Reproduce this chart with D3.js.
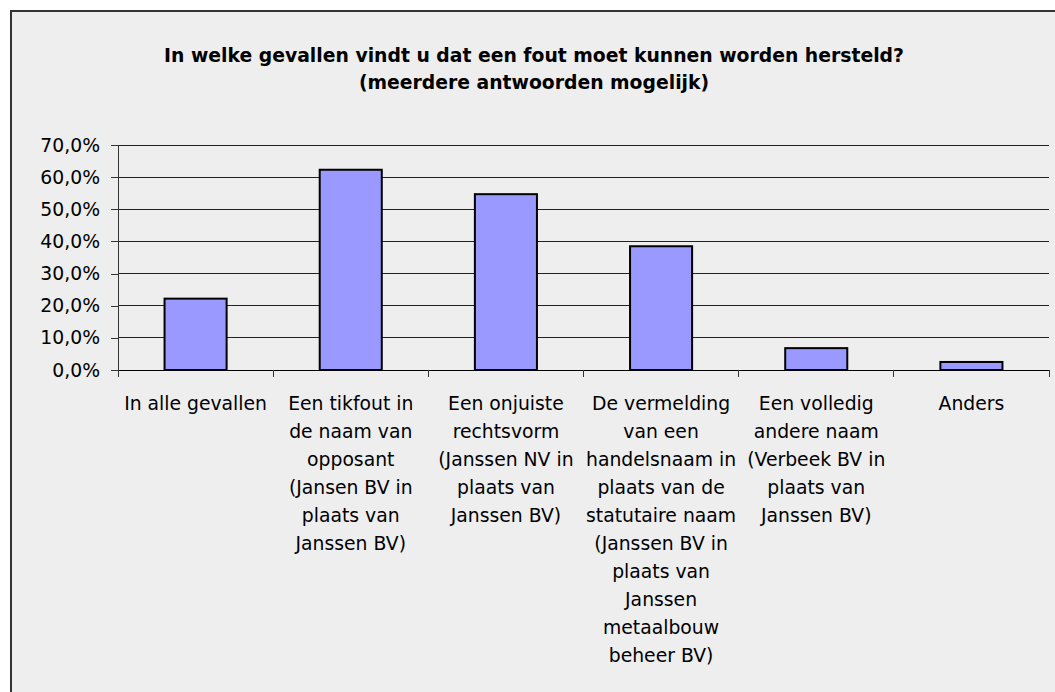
<!DOCTYPE html>
<html>
<head>
<meta charset="utf-8">
<script src="https://cdn.jsdelivr.net/npm/d3@7"></script>
<style>
  body { margin: 0; background: #ffffff; }
  svg { display: block; font-family: "DejaVu Sans", Verdana, sans-serif; }
</style>
</head>
<body>
<svg id="chart" width="1055" height="692"></svg>
<script>
// data
var categories = ["alle", "tikfout", "rechtsvorm", "handelsnaam", "andere", "anders"];
var labelLines = [
    ["In alle gevallen"],
    ["Een tikfout in", "de naam van", "opposant", "(Jansen BV in", "plaats van", "Janssen BV)"],
    ["Een onjuiste", "rechtsvorm", "(Janssen NV in", "plaats van", "Janssen BV)"],
    ["De vermelding", "van een", "handelsnaam in", "plaats van de", "statutaire naam", "(Janssen BV in", "plaats van", "Janssen", "metaalbouw", "beheer BV)"],
    ["Een volledig", "andere naam", "(Verbeek BV in", "plaats van", "Janssen BV)"],
    ["Anders"]
];
var values = [0.222, 0.623, 0.547, 0.385, 0.068, 0.025];
var yTicks = [0, 0.1, 0.2, 0.3, 0.4, 0.5, 0.6, 0.7];
var titleLines = ["In welke gevallen vindt u dat een fout moet kunnen worden hersteld?",
    "(meerdere antwoorden mogelijk)"];

var fontSize = "18.8px";
var svg = d3.select("#chart");

// chart area background + border
svg.append("rect")
    .attr("x", 11).attr("y", 11)
    .attr("width", 1060).attr("height", 700)
    .attr("fill", "#eeeeee")
    .attr("stroke", "#333333")
    .attr("stroke-width", 2);

var plot = { left: 118, right: 1049, top: 145, bottom: 370 };

var x = d3.scaleBand()
    .domain(categories)
    .range([plot.left, plot.right])
    .paddingInner(0.6)
    .paddingOuter(0.3);

var band = d3.scaleBand()
    .domain(categories)
    .range([plot.left, plot.right]);

var y = d3.scaleLinear()
    .domain([0, 0.7])
    .range([plot.bottom, plot.top]);

var fmt = function (d) { return d3.format(".1f")(d * 100).replace(".", ",") + "%"; };

// gridlines
svg.append("g")
    .selectAll("line")
    .data(yTicks.filter(function (d) { return d > 0; }))
    .enter()
    .append("line")
    .attr("x1", plot.left).attr("x2", plot.right)
    .attr("y1", function (d) { return y(d); })
    .attr("y2", function (d) { return y(d); })
    .attr("stroke", "#222222")
    .attr("stroke-width", 1)
    .attr("shape-rendering", "crispEdges");

// y axis
var yAxis = d3.axisLeft(y)
    .tickValues(yTicks)
    .tickFormat(fmt)
    .tickSize(7)
    .tickSizeOuter(0)
    .tickPadding(11);

var gy = svg.append("g")
    .attr("transform", "translate(" + plot.left + ",0)")
    .call(yAxis);
gy.selectAll("path, line").attr("stroke", "#333333").attr("shape-rendering", "crispEdges");
gy.selectAll("text")
    .style("font-family", "DejaVu Sans, Verdana, sans-serif")
    .style("font-size", fontSize)
    .attr("fill", "#000000");

// bars
svg.append("g")
    .selectAll("rect")
    .data(values)
    .enter()
    .append("rect")
    .attr("x", function (d, i) { return x(categories[i]); })
    .attr("y", function (d) { return y(d); })
    .attr("width", x.bandwidth())
    .attr("height", function (d) { return y(0) - y(d); })
    .attr("fill", "#9999ff")
    .attr("stroke", "#000000")
    .attr("stroke-width", 2);

// x axis
svg.append("line")
    .attr("x1", plot.left).attr("x2", plot.right)
    .attr("y1", plot.bottom).attr("y2", plot.bottom)
    .attr("stroke", "#000000")
    .attr("shape-rendering", "crispEdges");

var tickPos = categories.map(function (c) { return band(c); }).concat([plot.right]);
svg.append("g")
    .selectAll("line")
    .data(tickPos)
    .enter()
    .append("line")
    .attr("x1", function (d) { return d; })
    .attr("x2", function (d) { return d; })
    .attr("y1", plot.bottom)
    .attr("y2", plot.bottom + 7)
    .attr("stroke", "#333333")
    .attr("shape-rendering", "crispEdges");

// category labels
var labels = svg.append("g")
    .selectAll("text")
    .data(labelLines)
    .enter()
    .append("text")
    .attr("text-anchor", "middle")
    .style("font-size", fontSize)
    .attr("fill", "#000000");

labels.each(function (lines, i) {
    var cx = band(categories[i]) + band.bandwidth() / 2;
    d3.select(this).selectAll("tspan")
        .data(lines)
        .enter()
        .append("tspan")
        .attr("x", cx)
        .attr("y", function (d, j) { return 410 + j * 28; })
        .text(function (d) { return d; });
});

// title
svg.append("text")
    .attr("text-anchor", "middle")
    .style("font-size", fontSize)
    .style("font-weight", "bold")
    .selectAll("tspan")
    .data(titleLines)
    .enter()
    .append("tspan")
    .attr("x", 534)
    .attr("y", function (d, i) { return 62 + i * 27; })
    .text(function (d) { return d; });
</script>
</body>
</html>
